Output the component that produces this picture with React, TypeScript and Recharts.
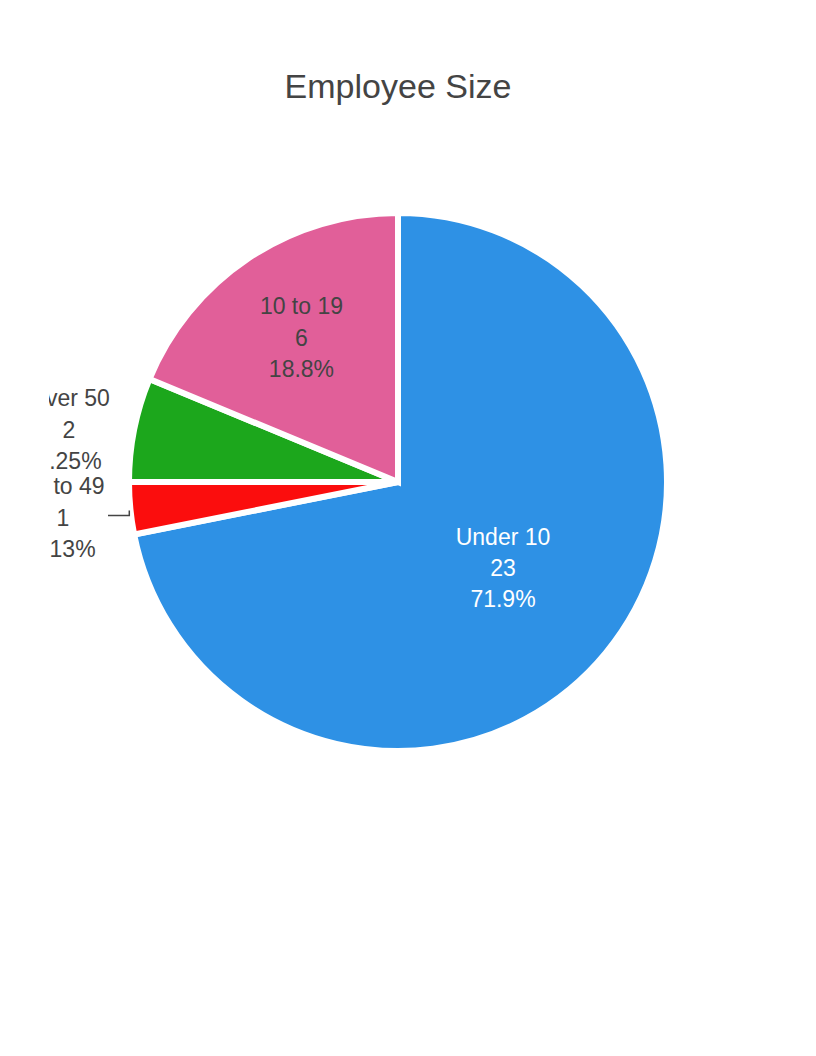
import React from "react";
import { PieChart, Pie, Cell } from "recharts";

const categories = ["Under 10", "20 to 49", "Over 50", "10 to 19"];
const counts = [23, 1, 2, 6];
const colors = ["#2E91E5", "#FB0D0D", "#1CA71C", "#E15F99"];
const insideTextColors = ["#ffffff", "#444444", "#444444", "#444444"];
const title = "Employee Size";

const data = categories.map((name, i) => ({ name, value: counts[i] }));

const CX = 398;
const CY = 482;
const R = 269;
const FONT = "'Liberation Sans', Arial, sans-serif";
const FS = 23;
const LH = 31.3;
const RAD = Math.PI / 180;

const total = counts.reduce((a, b) => a + b, 0);

// Pre-compute outside label vertical positions (push down to avoid overlap)
const outsideY: Record<number, number> = {};
(() => {
  let start = 0;
  const items: { i: number; y: number }[] = [];
  counts.forEach((c, i) => {
    const frac = c / total;
    const theta = (start + frac * 180) * RAD; // clockwise from top
    start += frac * 360;
    if (frac < 0.1) items.push({ i, y: CY - R * Math.cos(theta) });
  });
  items.sort((a, b) => a.y - b.y);
  let prev = -Infinity;
  items.forEach((it) => {
    const y = Math.max(it.y, prev + 88);
    outsideY[it.i] = y;
    prev = y;
  });
})();

const fmtPct = (p: number) => (p * 100).toPrecision(3) + "%";

const renderLabel = (props: any) => {
  const { midAngle, percent, index, name, value } = props;
  const cx = CX;
  const cy = CY;
  const cosA = Math.cos(-midAngle * RAD);
  const sinA = Math.sin(-midAngle * RAD);
  const lines = [name, String(value), fmtPct(percent)];
  if (percent >= 0.1) {
    const f = percent > 0.5 ? 0.505 : 0.646;
    const x = cx + R * f * cosA;
    const y = cy + R * f * sinA;
    return (
      <g key={`lbl-${index}`}>
        {lines.map((t, k) => (
          <text
            key={k}
            x={x}
            y={y + (k - 1) * LH}
            textAnchor="middle"
            dominantBaseline="central"
            fontFamily={FONT}
            fontSize={FS}
            fill={insideTextColors[index]}
          >
            {t}
          </text>
        ))}
      </g>
    );
  }
  const ex = cx + R * cosA;
  const ey = cy + R * sinA;
  const ly = outsideY[index] ?? ey;
  const shifted = Math.abs(ly - ey) > 2;
  const right = cx - R - 19 - (shifted ? 6 : 0);
  const blockW = 82;
  const x = right - blockW / 2;
  const sx = cx + (R + 1) * cosA;
  const sy = cy + (R + 1) * sinA + 2;
  return (
    <g key={`lbl-${index}`}>
      {shifted && (
        <path
          d={`M${sx},${sy} V${ly - 2} H${right + 4}`}
          stroke="#444"
          strokeWidth={1.5}
          fill="none"
        />
      )}
      {lines.map((t, k) => (
        <text
          key={k}
          x={x}
          y={ly + (k - 1) * LH}
          textAnchor="middle"
          dominantBaseline="central"
          fontFamily={FONT}
          fontSize={FS}
          fill="#444444"
        >
          {t}
        </text>
      ))}
    </g>
  );
};

export default function App() {
  return (
    <div style={{ position: "absolute", left: 0, top: 0, width: 816, height: 1056, background: "#fff" }}>
      <div
        style={{
          position: "absolute",
          left: 49,
          top: 0,
          width: 767,
          height: 1056,
          overflow: "hidden",
        }}
      >
        <div style={{ position: "absolute", left: -49, top: 0 }}>
          <PieChart width={816} height={1056} margin={{ top: 0, right: 0, bottom: 0, left: 0 }}>
            <Pie
              data={data}
              dataKey="value"
              nameKey="name"
              cx={CX}
              cy={CY}
              innerRadius={0}
              outerRadius={R}
              startAngle={90}
              endAngle={-270}
              stroke="#ffffff"
              strokeWidth={6}
              labelLine={false}
              label={renderLabel}
              isAnimationActive={false}
            >
              {data.map((d, i) => (
                <Cell key={d.name} fill={colors[i]} />
              ))}
            </Pie>
          </PieChart>
        </div>
      </div>
      <svg
        width={816}
        height={140}
        style={{ position: "absolute", left: 0, top: 0, pointerEvents: "none" }}
      >
        <text x={398} y={98} textAnchor="middle" fontFamily={FONT} fontSize={34} fill="#444444">
          {title}
        </text>
      </svg>
    </div>
  );
}
